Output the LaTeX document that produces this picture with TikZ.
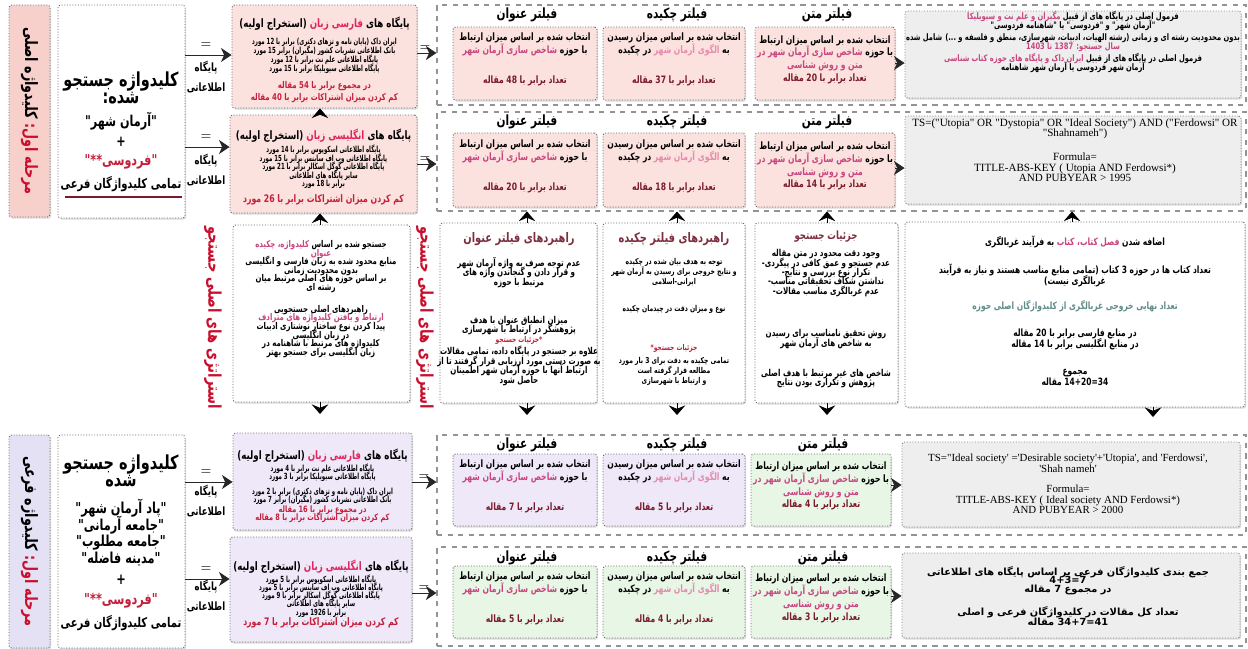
\documentclass[tikz,border=0pt]{standalone}
\usepackage{fontspec}
\usepackage{graphicx}
\usetikzlibrary{fit,shadows,arrows.meta}
\TeXXeTstate=1
\lineskiplimit=-100pt
\lineskip=0pt
\newfontfamily\fa[Script=Arabic,FakeStretch=0.75]{DejaVu Sans}
\newfontfamily\faw[Script=Arabic]{DejaVu Sans}
\newfontfamily\ser{Liberation Serif}
\newcommand\R[1]{\leavevmode\hbox{\beginR#1\endR}}
\newcommand\Rs[1]{\leavevmode\scalebox{0.86}[1]{\beginR#1\endR}}
\newcommand\N[1]{\beginL#1\endL{}}
% logical: A [coloured B]
\newcommand\RCe[3]{\leavevmode\hbox{\textcolor{#2}{\beginR#3\endR}\ \beginR#1\endR}}
% logical: [coloured B] C
\newcommand\RCs[3]{\leavevmode\hbox{\beginR#3\endR\ \textcolor{#1}{\beginR#2\endR}}}
% logical: A [coloured B] C
\newcommand\RCm[4]{\leavevmode\hbox{\beginR#4\endR\ \textcolor{#2}{\beginR#3\endR}\ \beginR#1\endR}}
\newcommand\fz[2]{\fontsize{#1}{#2}\selectfont}
\definecolor{pinkfill}{HTML}{FCE2DE}
\definecolor{lavfill}{HTML}{EEE8F8}
\definecolor{grnfill}{HTML}{E8F6E6}
\definecolor{grayfill}{HTML}{EEEEEE}
\definecolor{labpink}{HTML}{F7D0CC}
\definecolor{lablav}{HTML}{E5E1F4}
\definecolor{hlc}{HTML}{C8457E}
\definecolor{hlb}{HTML}{E68AAE}
\definecolor{redp}{HTML}{E0245E}
\definecolor{cnt}{HTML}{7A1A2A}
\definecolor{redc}{HTML}{C41E3A}
\definecolor{crim}{HTML}{C8102E}
\definecolor{maroonc}{HTML}{7E2E3E}
\definecolor{tealc}{HTML}{5F8C8A}
\definecolor{bord}{HTML}{666666}
\newcommand\fttl[1]{\R{انتخاب شده بر اساس میزان ارتباط}\\ \RCe{با حوزه}{hlc}{شاخص سازی آرمان شهر}\\[9.6pt] {\color{cnt}\R{تعداد برابر با \N{#1} مقاله}}}
\newcommand\fabst[1]{\R{انتخاب شده بر اساس میزان رسیدن}\\ \RCm{به}{hlb}{الگوی آرمان شهر}{در چکیده}\\[9.6pt] {\color{cnt}\R{تعداد برابر با \N{#1} مقاله}}}
\newcommand\ftxt[1]{\R{انتخاب شده بر اساس میزان ارتباط}\\ \RCe{با حوزه}{hlc}{شاخص سازی آرمان شهر در}\\ {\color{hlc}\R{متن و روش شناسی}}\\ {\color{cnt}\R{تعداد برابر با \N{#1} مقاله}}}
\begin{document}
\begin{tikzpicture}[x=0.02cm,y=-0.02cm,
  box/.style={draw=bord, densely dotted, line width=0.55pt, rounded corners=1.5pt, inner sep=0pt, align=center,
    drop shadow={shadow xshift=0.7pt,shadow yshift=-0.9pt,opacity=0.28}},
  fbox/.style={box, font=\fa\bfseries\fz{5.8}{7.3}},
  txt/.style={align=center, inner sep=0pt},
  grp/.style={draw=gray!85, dashed, line width=0.6pt, inner sep=0pt},
  conn/.style={draw=black!85, line width=0.5pt, -{Stealth[length=6pt,width=8pt,inset=1.8pt]}},
  chev/.style={draw=black, line width=0.4pt, -{Stealth[length=5.5pt,width=9.5pt,inset=2pt]}},
  hdr/.style={font=\fa\bfseries\fz{8}{9}, inner sep=0pt},
  eq/.style={font=\fz{7}{8}, inner sep=0pt},
  db/.style={font=\fa\bfseries\fz{6.5}{11}, align=center, inner sep=0pt},
  vlab/.style={font=\fa\bfseries\fz{10}{12}, rotate=-90, inner sep=0pt, text=crim}
]
\path[use as bounding box, fill=white] (0,0) rectangle (1248,649);

% ---------- left column ----------
\node[box, fill=labpink, fit={(9,5)(50,217)}] (lab1) {};
\node[font=\fa\bfseries\fz{9.7}{12}, rotate=-90, inner sep=0pt] (lab1t) at (lab1.center) {\RCs{crim}{مرحله اول:}{کلیدواژه اصلی}};
\node[box, fill=white, fit={(58,5)(185,218)}] (key1) {};
\node[txt, font=\fa\bfseries\fz{11}{9.5}] (key1t) at (121,88) {\R{کلیدواژه جستجو}\\\R{شده:}};
\node[txt, font=\fa\bfseries\fz{8.5}{11}] (key1b) at (121,152) {\R{"آرمان شهر"}\\ +\\ {\color{redc}\R{"فردوسی**"}}\\[2pt] {\fz{7.6}{9}\R{تمامی کلیدواژگان فرعی}}};
\draw[cnt, line width=0.8pt] (65,197) -- (182,197);

\node[box, fill=lablav, fit={(9,435)(50,648)}] (lab2) {};
\node[font=\fa\bfseries\fz{9.7}{12}, rotate=-90, inner sep=0pt] (lab2t) at (lab2.center) {\RCs{crim}{مرحله اول:}{کلیدواژه فرعی}};
\node[box, fill=white, fit={(58,435)(185,648)}] (key2) {};
\node[txt, font=\fa\bfseries\fz{11}{9.5}] (key2t) at (121,471) {\R{کلیدواژه جستجو}\\\R{شده}};
\node[txt, font=\fa\bfseries\fz{8.6}{9.4}] (key2b) at (121,565) {\R{"پاد آرمان شهر"}\\\R{"جامعه آرمانی"}\\\R{"جامعه مطلوب"}\\\R{"مدینه فاضله"}\\[2.5pt] +\\[2.5pt] {\color{redc}\R{"فردوسی**"}}\\[3.5pt] {\fz{7.6}{9}\R{تمامی کلیدواژگان فرعی}}};

% ---------- base boxes ----------
\node[box, fill=pinkfill, fit={(232,5)(417,108)}] (pfa1) {};
\node[txt, font=\fa\bfseries\fz{4.8}{5.1}] (pfa1t) at (324.5,60) {{\fz{6.6}{8}\RCm{پایگاه های}{redp}{فارسی زبان}{(استخراج اولیه)}}\\[4.5pt]
\Rs{ایران داک (پایان نامه و تزهای دکتری) برابر با \N{12} مورد}\\
\Rs{بانک اطلاعاتی نشریات کشور (مگیران) برابر \N{15} مورد}\\
\Rs{پایگاه اطلاعاتی علم نت برابر با \N{12} مورد}\\
\Rs{پایگاه اطلاعاتی سیویلیکا برابر با \N{15} مورد}\\[4.5pt]
{\fz{5.3}{6}\color{redc}\R{در مجموع برابر با \N{54} مقاله}}\\[2.2pt]
{\fz{5.3}{6}\color{redc}\R{کم کردن میزان اشتراکات برابر با \N{40} مقاله}}};

\node[box, fill=pinkfill, fit={(230,115)(417,213)}] (pen1) {};
\node[txt, font=\fa\bfseries\fz{4.8}{4.8}] (pen1t) at (323.5,167) {{\fz{6.6}{8}\RCm{پایگاه های}{redp}{انگلیسی زبان}{(استخراج اولیه)}}\\[3pt]
\Rs{پایگاه اطلاعاتی اسکوپوس برابر با \N{14} مورد}\\
\Rs{پایگاه اطلاعاتی وب اف ساینس برابر با \N{15} مورد}\\
\Rs{پایگاه اطلاعاتی گوگل اسکالر برابر با \N{21} مورد}\\
\Rs{سایر پایگاه های اطلاعاتی}\\
\Rs{برابر با \N{18} مورد}\\[4.5pt]
{\fz{5.9}{7}\color{redc}\R{کم کردن میزان اشتراکات برابر با \N{26} مورد}}};

\node[box, fill=white, fit={(233,225)(410,402)}] (strat) {};
\node[txt, font=\fa\bfseries\fz{5.3}{4.9}] (stratt) at (321,299) {\RCe{جستجو شده بر اساس}{hlc}{کلیدواژه، چکیده}\\
{\color{hlc}\R{عنوان}}\\
\R{منابع محدود شده به زبان فارسی و انگلیسی}\\
\R{بدون محدودیت زمانی}\\
\R{بر اساس حوزه های اصلی مرتبط میان}\\
\R{رشته ای}\\[7.5pt]
\R{راهبردهای اصلی جستجویی}\\
{\color{hlc}\R{ارتباط و یافتن کلیدواژه های مترادف}}\\
\R{پیدا کردن نوع ساختار نوشتاری ادبیات}\\
\R{در زبان انگلیسی}\\
\R{کلیدواژه های مرتبط با شاهنامه در}\\
\R{زبان انگلیسی برای جستجو بهتر}};

\node[vlab] (vs1) at (213,318) {\R{استراتژی های اصلی جستجو}};
\node[vlab] (vs2) at (425,318) {\R{استراتژی های اصلی جستجو}};

\node[box, fill=lavfill, fit={(233,433)(412,530)}] (pfa2) {};
\node[txt, font=\fa\bfseries\fz{4.8}{4.6}] (pfa2t) at (322.5,486) {{\fz{6.6}{8}\RCm{پایگاه های}{redp}{فارسی زبان}{(استخراج اولیه)}}\\[2pt]
\Rs{پایگاه اطلاعاتی علم نت برابر با \N{4} مورد}\\
\Rs{پایگاه اطلاعاتی سیویلیکا برابر با \N{3} مورد}\\[4pt]
\Rs{ایران داک (پایان نامه و تزهای دکتری) برابر با \N{2} مورد}\\
\Rs{بانک اطلاعاتی نشریات کشور (مگیران) برابر \N{7} مورد}\\[1.2pt]
{\fz{5}{6}\color{redc}\R{در مجموع برابر با \N{16} مقاله}}\\
{\fz{5}{6}\color{redc}\R{کم کردن میزان اشتراکات برابر با \N{8} مقاله}}};

\node[box, fill=lavfill, fit={(230,537)(412,642)}] (pen2) {};
\node[txt, font=\fa\bfseries\fz{4.8}{4.7}] (pen2t) at (321,594) {{\fz{6.6}{8}\RCm{پایگاه های}{redp}{انگلیسی زبان}{(استخراج اولیه)}}\\[1.8pt]
\Rs{پایگاه اطلاعاتی اسکوپوس برابر با \N{5} مورد}\\
\Rs{پایگاه اطلاعاتی وب اف ساینس برابر با \N{5} مورد}\\
\Rs{پایگاه اطلاعاتی گوگل اسکالر برابر با \N{9} مورد}\\
\Rs{سایر پایگاه های اطلاعاتی}\\
\Rs{برابر با \N{1926} مورد}\\[1pt]
{\fz{5.9}{7}\color{redc}\R{کم کردن میزان اشتراکات برابر با \N{7} مورد}}};

% ---------- filter groups ----------
\node[grp, fit={(437,5)(1246,105)}] (g1) {};
\node[grp, fit={(437,112)(1246,211)}] (g2) {};
\node[grp, fit={(437,435)(1246,535)}] (g3) {};
\node[grp, fit={(437,547)(1246,646)}] (g4) {};

% row 1
\node[hdr] (h1a) at (527,15) {\R{فیلتر عنوان}};
\node[hdr] (h1b) at (677,15) {\R{فیلتر چکیده}};
\node[hdr] (h1c) at (827,15) {\R{فیلتر متن}};
\node[fbox, fill=pinkfill, fit={(453,27)(597,100)}] (t1) {\fttl{48}};
\node[fbox, fill=pinkfill, fit={(603,27)(745,100)}] (a1) {\fabst{37}};
\node[fbox, fill=pinkfill, fit={(755,27)(895,100)}] (x1) {\ftxt{20}};
\node[box, fill=grayfill, draw=gray, fit={(905,11)(1241,98)}] (f1) {};
\node[txt, font=\fa\bfseries\fz{5.1}{5}] (f1t) at (1073,42) {\RCe{فرمول اصلی در پایگاه های از قبیل}{hlc}{مگیران و علم نت و سیویلیکا}\\
\R{"آرمان شهر" و "فردوسی" یا "شاهنامه فردوسی"}\\[2.3pt]
\R{بدون محدودیت رشته ای و زمانی (رشته الهیات، ادبیات، شهرسازی، منطق و فلسفه و ...) شامل شده}\\
{\color{hlc}\R{سال جستجو: \N{1387} تا \N{1403}}}\\[2pt]
\RCe{فرمول اصلی در پایگاه های از قبیل}{hlc}{ایران داک و پایگاه های حوزه کتاب شناسی}\\
\R{آرمان شهر فردوسی یا آرمان شهر شاهنامه}};

% row 2
\node[hdr] (h2a) at (527,122) {\R{فیلتر عنوان}};
\node[hdr] (h2b) at (677,122) {\R{فیلتر چکیده}};
\node[hdr] (h2c) at (827,122) {\R{فیلتر متن}};
\node[fbox, fill=pinkfill, fit={(453,133)(597,207)}] (t2) {\fttl{20}};
\node[fbox, fill=pinkfill, fit={(603,133)(745,207)}] (a2) {\fabst{18}};
\node[fbox, fill=pinkfill, fit={(755,133)(895,207)}] (x2) {\ftxt{14}};
\node[box, fill=grayfill, draw=gray, fit={(905,116)(1241,204)}] (f2) {};
\node[txt, font=\ser\fz{6.3}{6}] (f2t) at (1075,150) {TS=("Utopia" OR "Dystopia" OR "Ideal Society") AND ("Ferdowsi" OR\\ "Shahnameh")\\[7.6pt] Formula=\\ TITLE-ABS-KEY ( Utopia AND Ferdowsi*)\\ AND PUBYEAR > 1995};

% guidelines
\node[box, fill=white, fit={(440,223)(597,403)}] (gt) {};
\node[txt, font=\fa\bfseries\fz{5.4}{5.5}] (gtt) at (519,309) {{\fz{7.5}{8}\color{maroonc}\R{راهبردهای فیلتر عنوان}}\\[8.1pt]
\R{عدم توجه صرف به واژه آرمان شهر}\\
\R{و قرار دادن و گنجاندن واژه های}\\
\R{مرتبط با حوزه}\\[16pt]
\R{میزان انطباق عنوان با هدف}\\
\R{پژوهشگر در ارتباط با شهرسازی}\\
{\fz{4.5}{5.4}\color{redc}\R{*جزئیات جستجو}}\\[1.3pt]
\R{علاوه بر جستجو در پایگاه داده، تمامی مقالات}\\
\R{به صورت دستی مورد ارزیابی قرار گرفتند تا از}\\
\R{ارتباط آنها با حوزه آرمان شهر اطمینان}\\
\R{حاصل شود}};

\node[box, fill=white, fit={(603,223)(745,403)}] (ga) {};
\node[txt, font=\fa\bfseries\fz{4.6}{5.7}] (gat) at (674,309) {{\fz{7.5}{8}\color{maroonc}\R{راهبردهای فیلتر چکیده}}\\[6.8pt]
\R{توجه به هدف بیان شده در چکیده}\\
\R{و نتایج خروجی برای رسیدن به آرمان شهر}\\
\R{ایرانی-اسلامی}\\[9.6pt]
\R{نوع و میزان دقت در چیدمان چکیده}\\[17pt]
{\fz{4.5}{5.6}\color{redc}\R{جزئیات جستجو*}}\\[1.7pt]
\R{تمامی چکیده به دقت برای \N{3} بار مورد}\\
\R{مطالعه قرار گرفته است}\\
\R{و ارتباط با شهرسازی}};

\node[box, fill=white, fit={(755,223)(898,403)}] (gd) {};
\node[txt, font=\fa\bfseries\fz{5.4}{5.3}] (gdt) at (826,309) {{\fz{6.5}{7}\color{maroonc}\R{جزئیات جستجو}}\\[4.9pt]
\R{وجود دقت محدود در متن مقاله}\\
\R{عدم جستجو و عمق کافی در پیگردی-}\\
\R{تکرار نوع بررسی و نتایج-}\\
\R{نداشتن شکاف تحقیقاتی مناسب-}\\
\R{عدم غربالگری مناسب مقالات-}\\[19pt]
\R{روش تحقیق نامناسب برای رسیدن}\\
\R{به شاخص های آرمان شهر}\\[11.7pt]
\R{شاخص های غیر مرتبط با هدف اصلی}\\
\R{پژوهش و تکراری بودن نتایج}};

\node[box, fill=white, fit={(905,222)(1245,407)}] (rb) {};
\node[txt, font=\fa\bfseries\fz{5.7}{6.2}] (rbt) at (1075,311) {\RCm{اضافه شدن}{hlc}{فصل کتاب، کتاب}{به فرآیند غربالگری}\\[9.7pt]
\R{تعداد کتاب ها در حوزه \N{3} کتاب (تمامی منابع مناسب هستند و نیاز به فرآیند}\\
\R{غربالگری نیست)}\\[8pt]
{\color{tealc}\R{تعداد نهایی خروجی غربالگری از کلیدواژگان اصلی حوزه}}\\[9.1pt]
\R{در منابع فارسی برابر با \N{20} مقاله}\\
\R{در منابع انگلیسی برابر با \N{14} مقاله}\\[9.7pt]
\R{مجموع}\\
\R{\N{34=14+20} مقاله}};

% row 3
\node[hdr] (h3a) at (527,445) {\R{فیلتر عنوان}};
\node[hdr] (h3b) at (677,445) {\R{فیلتر چکیده}};
\node[hdr] (h3c) at (823,445) {\R{فیلتر متن}};
\node[fbox, fill=lavfill, fit={(453,454)(597,526)}] (t3) {\fttl{7}};
\node[fbox, fill=lavfill, fit={(603,454)(745,526)}] (a3) {\fabst{5}};
\node[fbox, fill=grnfill, fit={(751,454)(891,526)}] (x3) {\ftxt{4}};
\node[box, fill=grayfill, draw=gray, fit={(902,442)(1240,527)}] (f3) {};
\node[txt, font=\ser\fz{6.2}{6.2}] (f3t) at (1068,484) {TS="Ideal society' ='Desirable society'+'Utopia', and 'Ferdowsi',\\ 'Shah nameh'\\[5pt] Formula=\\ TITLE-ABS-KEY ( Ideal society AND Ferdowsi*)\\ AND PUBYEAR > 2000};

% row 4
\node[hdr] (h4a) at (527,558) {\R{فیلتر عنوان}};
\node[hdr] (h4b) at (677,558) {\R{فیلتر چکیده}};
\node[hdr] (h4c) at (823,558) {\R{فیلتر متن}};
\node[fbox, fill=grnfill, fit={(453,566)(597,638)}] (t4) {\fttl{5}};
\node[fbox, fill=grnfill, fit={(603,566)(745,638)}] (a4) {\fabst{4}};
\node[fbox, fill=grnfill, fit={(751,566)(891,638)}] (x4) {\ftxt{3}};
\node[box, fill=grayfill, draw=gray, fit={(902,553)(1240,638)}] (f4) {};
\node[txt, font=\faw\bfseries\fz{5.6}{5}] (f4t) at (1068,596) {\R{جمع بندی کلیدواژگان فرعی بر اساس پایگاه های اطلاعاتی}\\
\R{\N{7=4+3}}\\
\R{در مجموع \N{7} مقاله}\\[8pt]
\R{تعداد کل مقالات در کلیدواژگان فرعی و اصلی}\\[0.8pt]
\R{\N{41=34+7} مقاله}};

% ---------- connectors ----------
\draw[conn] (key1.east |- 0,55) -- (pfa1.west |- 0,55);
\node[eq] (eq1) at (206,45) {=};
\node[db] (db1) at (206,77) {\R{پایگاه}\\\R{اطلاعاتی}};
\draw[conn] (key1.east |- 0,147) -- (pen1.west |- 0,147);
\node[eq] (eq2) at (206,137) {=};
\node[db] (db2) at (206,170) {\R{پایگاه}\\\R{اطلاعاتی}};
\draw[conn] (key2.east |- 0,482) -- (pfa2.west |- 0,482);
\node[eq] (eq3) at (206,472) {=};
\node[db] (db3) at (206,501) {\R{پایگاه}\\\R{اطلاعاتی}};
\draw[conn] (key2.east |- 0,579) -- (pen2.west |- 0,579);
\node[eq] (eq4) at (206,569) {=};
\node[db] (db4) at (206,596) {\R{پایگاه}\\\R{اطلاعاتی}};

\draw[conn] (pfa1.east |- 0,53) -- (g1.west |- 0,53);
\node[eq] (eq5) at (425,48) {=};
\draw[conn] (pen1.east |- 0,164) -- (g2.west |- 0,164);
\node[eq] (eq6) at (425,159) {=};
\draw[conn] (pfa2.east |- 0,482) -- (g3.west |- 0,482);
\node[eq] (eq7) at (424,477) {=};
\draw[conn] (pen2.east |- 0,593) -- (g4.west |- 0,593);
\node[eq] (eq8) at (424,588) {=};

\draw[conn] (x1.east |- 0,63) -- (f1.west |- 0,63);
\draw[conn] (x2.east |- 0,168) -- (f2.west |- 0,168);
\draw[conn] (x3.east |- 0,485) -- (f3.west |- 0,485);
\draw[conn] (x4.east |- 0,596) -- (f4.west |- 0,596);

\draw[chev] (pen1.north -| 320,0) -- (pfa1.south -| 320,0);
\draw[chev] (strat.north -| 320,0) -- (pen1.south -| 320,0);
\coordinate (sd) at (320,414);
\draw[chev] (strat.south -| 320,0) -- (sd);
\draw[chev] (gt.north -| 527,0) -- (g2.south -| 527,0);
\draw[chev] (ga.north -| 677,0) -- (g2.south -| 677,0);
\draw[chev] (gd.north -| 827,0) -- (g2.south -| 827,0);
\draw[chev] (rb.north -| 1072,0) -- (g2.south -| 1072,0);
\coordinate (gtd) at (527,415);
\coordinate (gad) at (677,415);
\coordinate (gdd) at (827,415);
\coordinate (rbd) at (1153,417);
\draw[chev] (gt.south -| 527,0) -- (gtd);
\draw[chev] (ga.south -| 677,0) -- (gad);
\draw[chev] (gd.south -| 827,0) -- (gdd);
\draw[chev] (rb.south -| 1153,0) -- (rbd);
\end{tikzpicture}
\end{document}
